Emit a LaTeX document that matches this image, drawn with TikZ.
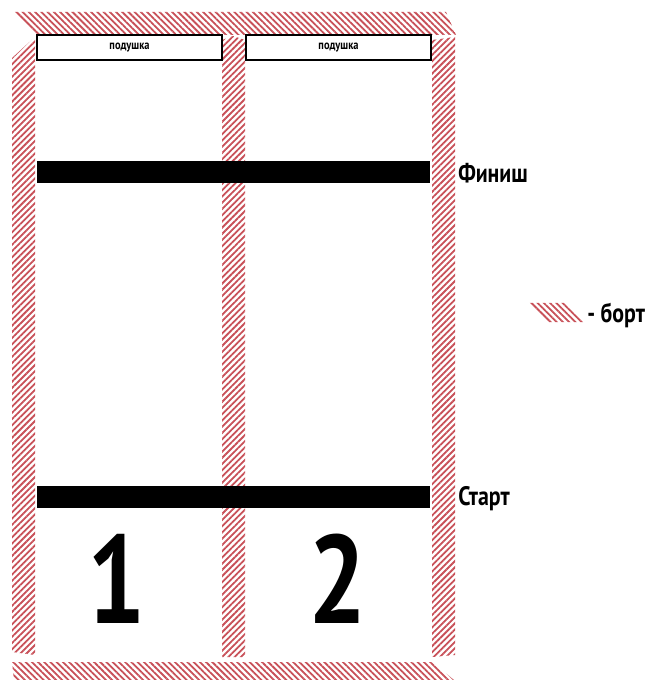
\documentclass[tikz,border=0pt]{standalone}
\usepackage{fontspec}
\setmainfont{PT Sans}
\newfontfamily\cond[FakeStretch=0.82]{PT Sans}
\usetikzlibrary{patterns.meta}
\definecolor{bort}{RGB}{200,80,88}
\tikzset{
  hatchA/.style={pattern={Lines[angle=45,distance=3.3pt,line width=1.35pt]},pattern color=bort},
  hatchB/.style={pattern={Lines[angle=-45,distance=3.3pt,line width=1.35pt]},pattern color=bort},
  pillow/.style={draw=black,line width=0.9pt,fill=white,inner sep=0pt,
    minimum width=138.75pt,minimum height=18.75pt,font=\cond\bfseries\fontsize{9.5}{10}\selectfont},
  bar/.style={fill=black,draw=none,inner sep=0pt,minimum width=294.75pt,minimum height=16.5pt},
  lbl/.style={font=\cond\bfseries\fontsize{20}{22}\selectfont,inner sep=0pt,anchor=base west},
  num/.style={font=\cond\bfseries\fontsize{94}{94}\selectfont,inner sep=0pt,anchor=base},
}
\begin{document}
\begin{tikzpicture}[x=0.75pt,y=-0.75pt]
\useasboundingbox (0,0) rectangle (658,680);
% frame (borts)
\path[hatchB] (12,12) -- (446,12) -- (456,35) -- (35,35) -- cycle;
\path[hatchA] (12,58) -- (35,37) -- (35,655) -- (12,652) -- cycle;
\path[hatchA] (222,40) -- (233,36) -- (245,40) -- (245,657) -- (222,657) -- cycle;
\path[hatchA] (432,40) -- (455,37) -- (455,655) -- (432,657) -- cycle;
\path[hatchB] (12,662) -- (432,662) -- (454,680) -- (14,680) -- cycle;
% pillows
\node[pillow] (p1) at (129.5,47.5) {подушка};
\node[pillow] (p2) at (338.5,47.5) {подушка};
% lines
\node[bar] (finish) at (233.5,172) {};
\node[bar] (start) at (233.5,497) {};
\node[lbl] (fin) at (458,183) {Финиш};
\node[lbl] (st) at (458,505) {Старт};
% lane numbers
\node[num] (n1) at (117,623) {1};
\node[num] (n2) at (338,623) {2};
% legend
\path[hatchB] (527,303) -- (566,303) -- (585,322) -- (546,322) -- cycle;
\node[lbl] (leg) at (587,322) {- борт};
\end{tikzpicture}
\end{document}
